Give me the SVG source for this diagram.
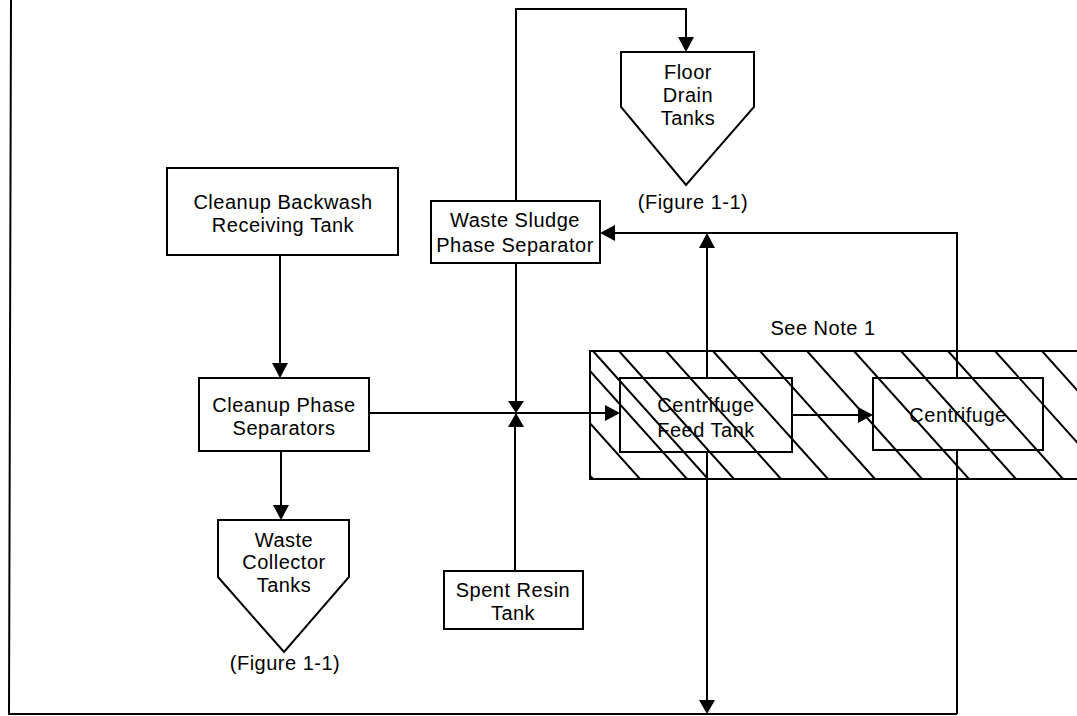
<svg xmlns="http://www.w3.org/2000/svg" width="1077" height="716" viewBox="0 0 1077 716">
<style>
.box{fill:none;stroke:#000;stroke-width:2}
.ln{fill:none;stroke:#000;stroke-width:2}
.hl{stroke:#000;stroke-width:2}
.ah{fill:#000;stroke:none}
text{font-family:"Liberation Sans",Arial,sans-serif;font-size:20px;letter-spacing:0.5px;fill:#000;text-anchor:middle}
</style>
<defs>
<clipPath id="hc"><rect x="590" y="351" width="490" height="128"/></clipPath>
</defs>
<rect width="1077" height="716" fill="#fff"/>
<g id="frame">
<path class="ln" d="M11,0 L9,714 L957,714"/>
</g>
<g id="note-area">
<g clip-path="url(#hc)">
<path class="hl" d="M478,351 l115,128 M525,351 l115,128 M572,351 l115,128 M619,351 l115,128 M666,351 l115,128 M713,351 l115,128 M760,351 l115,128 M807,351 l115,128 M854,351 l115,128 M901,351 l115,128 M948,351 l115,128 M995,351 l115,128 M1042,351 l115,128 M593,351 l115,128"/>
</g>
<path class="ln" d="M1077,351 L590,351 L590,479 L1077,479"/>
<text x="823" y="335">See Note 1</text>
</g>
<g id="connectors">
<path class="ln" d="M516,201 L516,9 L686,9 L686,40"/>
<path class="ah" d="M678,37 L694,37 L686,52 Z"/>
<path class="ln" d="M280,255 L280,366"/>
<path class="ah" d="M272,363 L288,363 L280,378 Z"/>
<path class="ln" d="M281,451 L281,508"/>
<path class="ah" d="M273,505 L289,505 L281,520 Z"/>
<path class="ln" d="M369,413 L608,413"/>
<path class="ah" d="M605,405 L605,421 L620,413 Z"/>
<path class="ln" d="M516,263 L516,403"/>
<path class="ah" d="M508,401 L524,401 L516,413 Z"/>
<path class="ln" d="M515,571 L515,425"/>
<path class="ah" d="M508,427 L524,427 L516,413 Z"/>
<path class="ln" d="M792,415 L861,415"/>
<path class="ah" d="M858,407 L858,423 L873,415 Z"/>
<path class="ln" d="M957,378 L957,233 L612,233"/>
<path class="ah" d="M615,225 L615,241 L600,233 Z"/>
<path class="ln" d="M707,378 L707,245"/>
<path class="ah" d="M699,248 L715,248 L707,233 Z"/>
<path class="ln" d="M707,452 L707,702"/>
<path class="ah" d="M699,700 L715,700 L707,714 Z"/>
<path class="ln" d="M957,450 L957,714"/>
</g>
<g id="floor-drain-tanks">
<path class="box" d="M621,52 L754,52 L754,107 L686,185 L621,107 Z"/>
<text x="688" y="79">Floor</text>
<text x="688" y="102">Drain</text>
<text x="688" y="125">Tanks</text>
<text x="693" y="209">(Figure 1-1)</text>
</g>
<g id="cleanup-backwash-receiving-tank">
<rect class="box" x="167" y="168" width="231" height="87"/>
<text x="283" y="209">Cleanup Backwash</text>
<text x="283" y="232">Receiving Tank</text>
</g>
<g id="waste-sludge-phase-separator">
<rect class="box" x="431" y="201" width="169" height="62"/>
<text x="515" y="227">Waste Sludge</text>
<text x="515" y="252">Phase Separator</text>
</g>
<g id="cleanup-phase-separators">
<rect class="box" x="199" y="378" width="170" height="73"/>
<text x="284" y="412">Cleanup Phase</text>
<text x="284" y="435">Separators</text>
</g>
<g id="centrifuge-feed-tank">
<rect class="box" x="620" y="378" width="172" height="74"/>
<text x="706" y="412">Centrifuge</text>
<text x="706" y="437">Feed Tank</text>
</g>
<g id="centrifuge">
<rect class="box" x="873" y="378" width="170" height="72"/>
<text x="958" y="422">Centrifuge</text>
</g>
<g id="waste-collector-tanks">
<path class="box" d="M218,520 L349,520 L349,577 L284,652 L218,577 Z"/>
<text x="284" y="547">Waste</text>
<text x="284" y="569">Collector</text>
<text x="284" y="592">Tanks</text>
<text x="285" y="670">(Figure 1-1)</text>
</g>
<g id="spent-resin-tank">
<rect class="box" x="444" y="571" width="139" height="58"/>
<text x="513" y="597">Spent Resin</text>
<text x="513" y="620">Tank</text>
</g>
</svg>
